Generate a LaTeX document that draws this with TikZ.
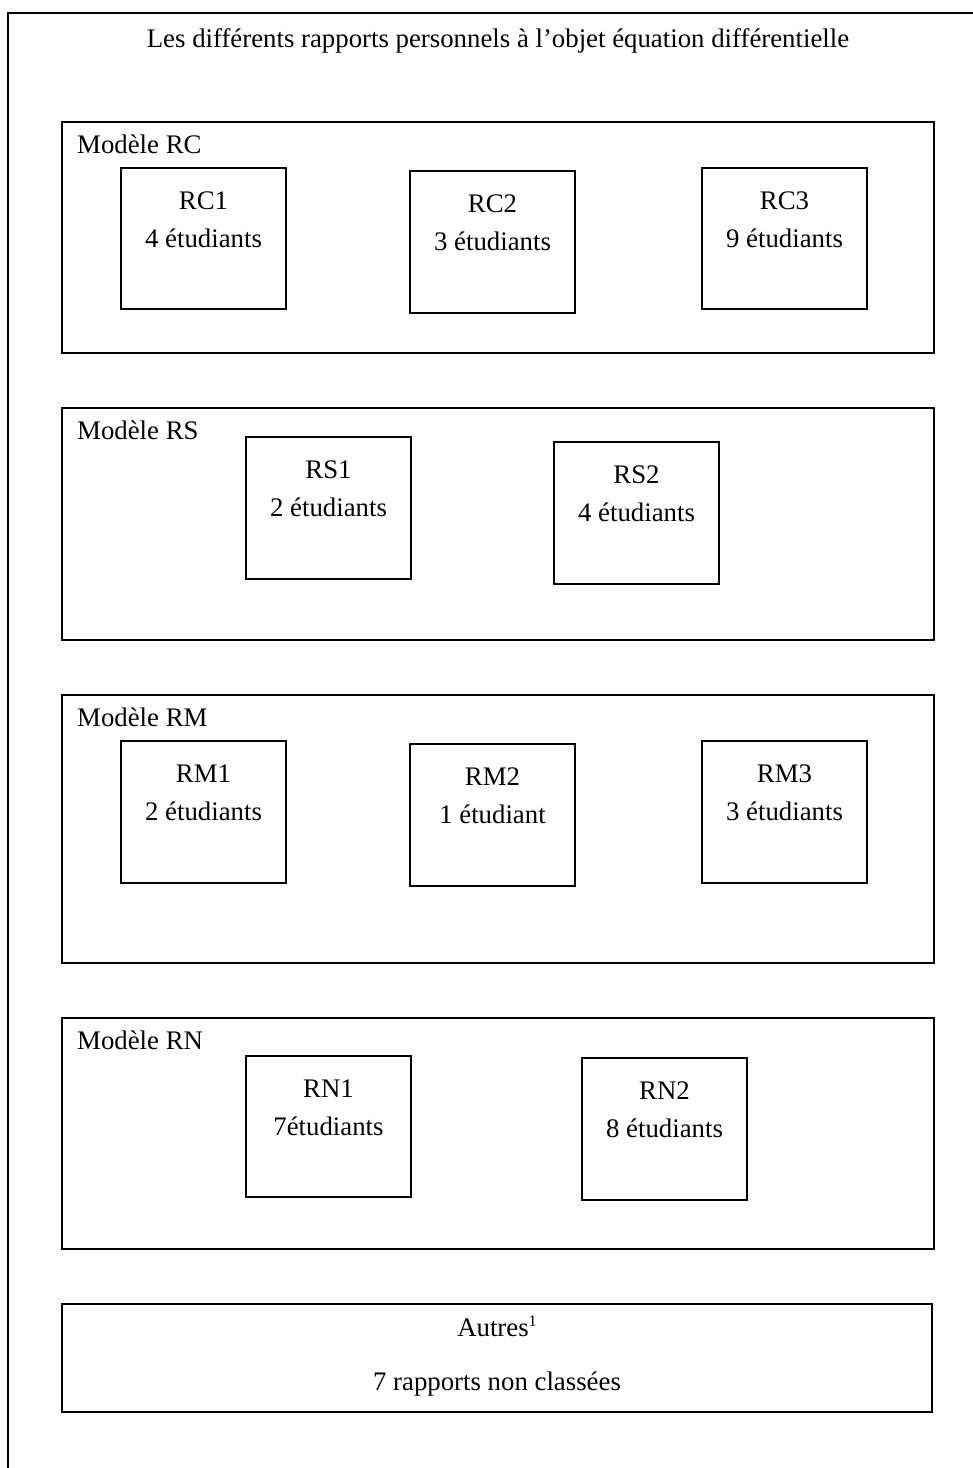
\documentclass[tikz,border=0pt]{standalone}
\usepackage{fontspec}
\setmainfont{Liberation Serif}
\usetikzlibrary{calc}
\newcommand\mybox[6]{\node[#2, minimum width={#5-#3}, minimum height={#6-#4}] (#1) at ({(#3+#5)/2},{(#4+#6)/2}) {};}
\tikzset{
  txt/.style={font=\fontsize{26.8}{32}\selectfont, inner sep=0pt, anchor=base},
  modelbox/.style={draw, line width=1.6pt, inner sep=0pt, outer sep=0pt},
  subbox/.style={draw, line width=1.3pt, inner sep=0pt, outer sep=0pt},
  otherbox/.style={draw, line width=2pt, inner sep=0pt, outer sep=0pt},
}
\begin{document}
\begin{tikzpicture}[x=1pt,y=-1pt]
\useasboundingbox (0,0) rectangle (973,1468);
% outer frame (cropped)
\coordinate (fbl) at (8,1470);
\coordinate (ftl) at (8,13);
\coordinate (ftr) at (975,13);
\draw[line width=2pt] (fbl) -- (ftl) -- (ftr);
\node[txt] (title) at (498,47) {Les différents rapports personnels à l’objet équation différentielle};

% model boxes
\mybox{mRC}{modelbox}{62}{122}{934}{353}
\mybox{mRS}{modelbox}{62}{408}{934}{640}
\mybox{mRM}{modelbox}{62}{695}{934}{963}
\mybox{mRN}{modelbox}{62}{1018}{934}{1249}
\mybox{aut}{otherbox}{62}{1304}{932}{1412}

\foreach \m/\t in {mRC/Modèle RC, mRS/Modèle RS, mRM/Modèle RM, mRN/Modèle RN}
  \node[txt, anchor=base west] (\m-lbl) at ($(\m.north west)+(15,31)$) {\t};

% sub boxes
\mybox{rc1}{subbox}{121}{168}{286}{309}
\mybox{rc2}{subbox}{410}{171}{575}{313}
\mybox{rc3}{subbox}{702}{168}{867}{309}
\mybox{rs1}{subbox}{246}{437}{411}{579}
\mybox{rs2}{subbox}{554}{442}{719}{584}
\mybox{rm1}{subbox}{121}{741}{286}{883}
\mybox{rm2}{subbox}{410}{744}{575}{886}
\mybox{rm3}{subbox}{702}{741}{867}{883}
\mybox{rn1}{subbox}{246}{1056}{411}{1197}
\mybox{rn2}{subbox}{582}{1058}{747}{1200}

\foreach \b/\a/\c in {rc1/RC1/4 étudiants, rc2/RC2/3 étudiants, rc3/RC3/9 étudiants,
  rs1/RS1/2 étudiants, rs2/RS2/4 étudiants,
  rm1/RM1/2 étudiants, rm2/RM2/1 étudiant, rm3/RM3/3 étudiants,
  rn1/RN1/7étudiants, rn2/RN2/8 étudiants}{
  \node[txt] (\b-a) at ($(\b.north)+(0,41)$) {\a};
  \node[txt] (\b-b) at ($(\b.north)+(0,79)$) {\c};
}

\node[txt] (aut-a) at ($(aut.north)+(0,32)$) {Autres\raisebox{10pt}{\fontsize{16}{16}\selectfont 1}};
\node[txt] (aut-b) at ($(aut.north)+(0,86)$) {7 rapports non classées};
\end{tikzpicture}
\end{document}
